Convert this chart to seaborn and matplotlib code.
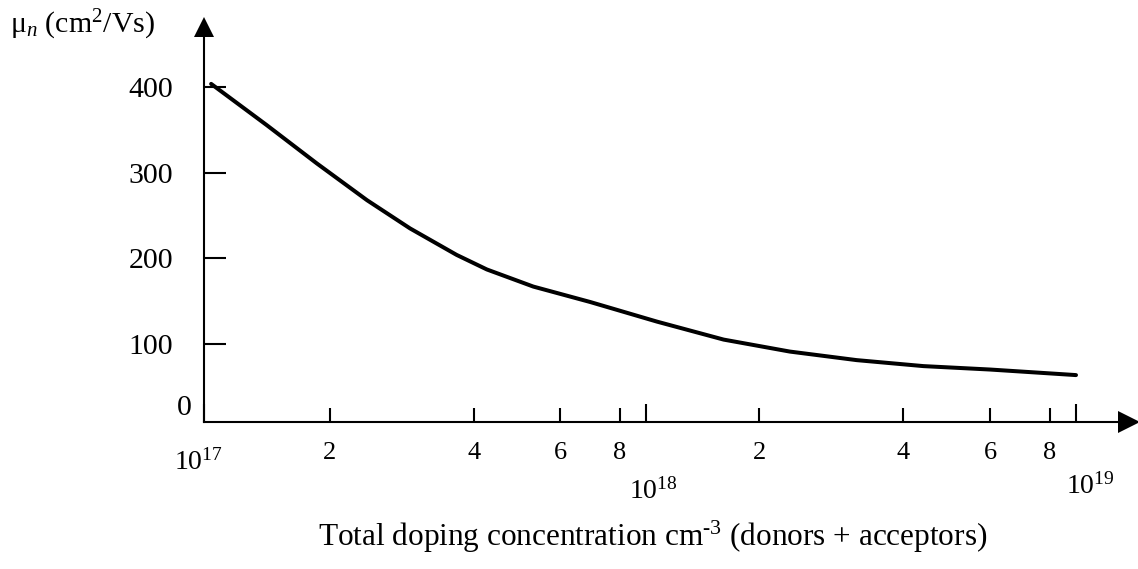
import numpy as np
import pandas as pd
import matplotlib
matplotlib.use("Agg")
import matplotlib.pyplot as plt
import seaborn as sns
from matplotlib.ticker import FixedLocator, FixedFormatter, NullFormatter

# ---- data ----
doping = [1.04e17, 1.41e17, 1.86e17, 2.39e17, 2.94e17, 3.68e17, 4.25e17, 5.29e17,
          6.93e17, 1.07e18, 1.61e18, 2.32e18, 3.20e18, 4.40e18, 6.0e18, 1.0e19]
mobility = [404, 356, 311, 268, 235, 204, 187, 167,
            149, 126, 105, 91, 81, 74, 70, 63.5]

minor_ticks = [2e17, 4e17, 6e17, 8e17, 2e18, 4e18, 6e18, 8e18]
minor_labels = ["2", "4", "6", "8", "2", "4", "6", "8"]
decade_ticks = [1e17, 1e18, 1e19]
decade_labels = [r"$10^{17}$", r"$10^{18}$", r"$10^{19}$"]
y_ticks = [100, 200, 300, 400]
y_labels = ["100", "200", "300", "400"]

x_title = r"Total doping concentration cm$^{\text{-3}}$ (donors + acceptors)"
y_title = r"$\mathrm{\mu}_{n}$ (cm$^{2}$/Vs)"

df = pd.DataFrame({"doping": doping, "mobility": mobility})

# ---- style ----
sns.set_theme(style="white")
plt.rcParams.update({
    "font.family": ["Liberation Serif", "DejaVu Serif"],
    "mathtext.fontset": "custom",
    "mathtext.rm": "Liberation Serif",
    "mathtext.it": "Liberation Serif:italic",
    "mathtext.bf": "Liberation Serif:bold",
    "axes.edgecolor": "black",
    "xtick.color": "black",
    "ytick.color": "black",
    "text.color": "black",
})

PX = 0.72  # points per pixel at dpi 100
W, H = 1138, 569
fig = plt.figure(figsize=(W / 100, H / 100), dpi=100)
ax = fig.add_axes([204 / W, (H - 421.7) / H, (1129 - 204) / W, (421.7 - 27) / H])

sns.lineplot(data=df, x="doping", y="mobility", ax=ax, color="black",
             linewidth=4 * PX, sort=True)

# hand-drawn logarithmic axis: decade sub-ticks are not evenly spaced in the
# original drawing, so the log axis is calibrated piecewise.
_sub = np.log10([1, 2, 4, 6, 8])
_log_knots = np.concatenate([[16.0], 17 + _sub, 18 + _sub, [19.0, 20.0]])
_pos_knots = np.array([-238, 204, 330, 474, 560, 620, 646, 759, 903, 990, 1050,
                       1076, 1506], dtype=float)


def _fwd(x):
    x = np.asarray(x, dtype=float)
    return np.interp(np.log10(np.clip(x, 1e-300, None)), _log_knots, _pos_knots)


def _inv(p):
    return 10 ** np.interp(np.asarray(p, dtype=float), _pos_knots, _log_knots)


ax.set_xscale("function", functions=(_fwd, _inv))
ax.set_xlim(1e17, float(_inv(1129)))
ax.set_ylim(9, 470.5)

# spines & arrows
for s in ["top", "right"]:
    ax.spines[s].set_visible(False)
for s in ["left", "bottom"]:
    ax.spines[s].set_linewidth(1.5)
    ax.spines[s].set_color("black")
ax.plot([0], [1], marker="^", ms=20 * PX, color="black", mew=0,
        transform=ax.transAxes, clip_on=False)
ax.plot([1], [0], marker=">", ms=22 * PX, color="black", mew=0,
        transform=ax.transAxes, clip_on=False)

# y ticks
ax.yaxis.set_major_locator(FixedLocator(y_ticks))
ax.yaxis.set_major_formatter(FixedFormatter(y_labels))
ax.tick_params(axis="y", direction="in", length=22 * PX, width=1.5,
               pad=31 * PX, labelsize=21.5, left=True)

# x ticks
ax.xaxis.set_major_locator(FixedLocator(decade_ticks))
ax.xaxis.set_major_formatter(NullFormatter())
ax.xaxis.set_minor_locator(FixedLocator(minor_ticks))
ax.xaxis.set_minor_formatter(FixedFormatter(minor_labels))
ax.tick_params(axis="x", which="major", direction="in", length=18 * PX,
               width=1.5, bottom=True)
ax.tick_params(axis="x", which="minor", direction="in", length=14 * PX,
               width=1.5, pad=20 * PX, labelsize=19, bottom=True)

ax.set_xlabel("")
ax.set_ylabel("")

# decade labels (staggered as in the drawing)
offsets = [(-6, -48), (7, -77), (14, -72)]
for val, lbl, (dx, dy) in zip(decade_ticks, decade_labels, offsets):
    ax.annotate(lbl, xy=(val, 0), xycoords=("data", "axes fraction"),
                xytext=(dx * PX, dy * PX), textcoords="offset points",
                ha="center", va="baseline", fontsize=20)

# zero label
ax.annotate("0", xy=(0, 0), xycoords="axes fraction",
            xytext=(-12 * PX, 13.7 * PX), textcoords="offset points",
            ha="right", va="center", fontsize=21.5)

fig.text(318 / W, (H - 546) / H, x_title, ha="left", va="baseline", fontsize=22.5)
fig.text(10 / W, (H - 33) / H, y_title, ha="left", va="baseline", fontsize=21.5)

fig.savefig("out.png", dpi=100)
